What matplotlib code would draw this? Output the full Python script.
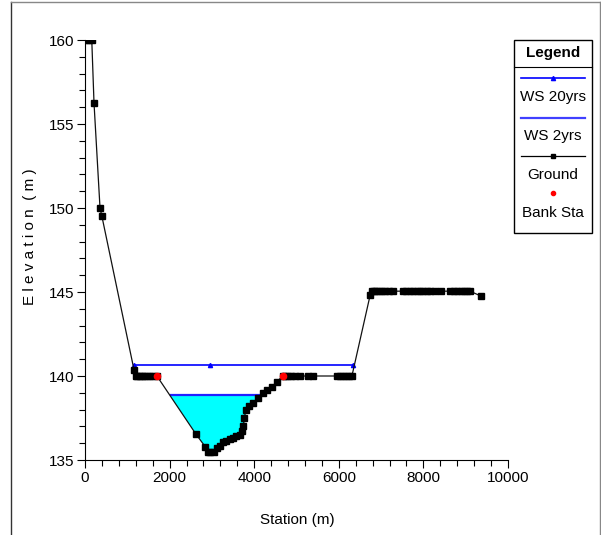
import matplotlib
matplotlib.use("Agg")
import matplotlib.pyplot as plt
import numpy as np
from matplotlib.lines import Line2D
from matplotlib.patches import Rectangle

plt.rcParams['font.family'] = ['Liberation Sans Narrow', 'Liberation Sans', 'DejaVu Sans']

# Ground profile (station m, elevation m)
ground_sta = [30, 100, 160, 213, 355, 400, 1160, 1200, 1240, 1290, 1350, 1400, 1470, 1530, 1600, 1700,
              2620, 2840, 2910, 2960, 3050, 3120, 3190, 3260, 3330, 3420, 3500, 3580, 3660, 3700, 3740,
              3770, 3800, 3880, 3970, 4090, 4210, 4300, 4420, 4530, 4680,
              4730, 4800, 4880, 4960, 5080, 5270, 5390, 5960, 6030, 6100, 6170, 6240, 6310,
              6740, 6780, 6830, 6880, 6950, 7020, 7090, 7180, 7280, 7520, 7600, 7680, 7760, 7840,
              7920, 8000, 8080, 8160, 8270, 8420, 8630, 8720, 8800, 8880, 8960, 9040, 9100, 9360]
ground_elev = [160.0, 160.0, 160.0, 156.25, 150.0, 149.5, 140.35, 140.0, 140.0, 140.0, 140.0, 140.0, 140.0, 140.0, 140.0, 140.0,
               136.55, 135.8, 135.5, 135.5, 135.5, 135.7, 135.85, 136.05, 136.15, 136.25, 136.3, 136.4, 136.5, 136.7, 137.0,
               137.5, 138.0, 138.2, 138.4, 138.7, 139.0, 139.15, 139.35, 139.65, 140.0,
               140.0, 140.0, 140.0, 140.0, 140.0, 140.0, 140.0, 140.0, 140.0, 140.0, 140.0, 140.0, 140.0,
               144.8, 145.05, 145.05, 145.05, 145.05, 145.05, 145.05, 145.05, 145.05, 145.05, 145.05, 145.05, 145.05, 145.05,
               145.05, 145.05, 145.05, 145.05, 145.05, 145.05, 145.05, 145.05, 145.05, 145.05, 145.05, 145.05, 145.05, 144.76]

bank_sta = [1700, 4680]
bank_elev = [140.0, 140.0]

ws20_sta = [1160, 2950, 6330]
ws20_elev = 140.65
ws2_sta = [2030, 4180]
ws2_elev = 138.87

FS = 11

fig = plt.figure(figsize=(6.01, 5.35), dpi=100)
ax = fig.add_axes([85/601, 1-460/535, (508-85)/601, (460-40)/535])

gs = np.array(ground_sta, float)
ge = np.array(ground_elev, float)
mask = (gs >= 1700) & (gs <= 4680)
ax.fill_between(gs[mask], ge[mask], ws2_elev, where=ge[mask] <= ws2_elev, interpolate=True,
                color='#00ffff', linewidth=0, zorder=1)

ax.plot(ws20_sta, [ws20_elev]*len(ws20_sta), color='#0000ff', lw=1.2, marker='^', ms=3, zorder=2)
ax.plot(ws2_sta, [ws2_elev]*len(ws2_sta), color='#2020ff', lw=1.6, zorder=2)
ax.plot(gs, ge, color='#111111', lw=0.9, marker='s', ms=4.5, mfc='black', mec='black', zorder=3)
ax.plot(bank_sta, bank_elev, linestyle='none', marker='o', color='red', ms=4.5, zorder=4)

ax.set_xlim(0, 10000)
ax.set_ylim(135, 160)
ax.set_xticks([0, 2000, 4000, 6000, 8000, 10000])
ax.set_xticks(np.arange(0, 10001, 400), minor=True)
ax.set_yticks([135, 140, 145, 150, 155, 160])
ax.set_yticks(np.arange(135, 161, 1), minor=True)
ax.tick_params(axis='both', which='major', length=6, width=0.8, labelsize=FS, direction='out', pad=2)
ax.tick_params(axis='both', which='minor', length=4, width=0.8, direction='out')
for s in ['top', 'right']:
    ax.spines[s].set_visible(False)
ax.spines['left'].set_linewidth(0.8)
ax.spines['bottom'].set_linewidth(0.8)
ax.patch.set_alpha(0)

fig.text(30/601, 1-237/535, 'E l e v a t i o n  ( m )', rotation=90, ha='center', va='center', fontsize=FS)
fig.text(297/601, 1-520/535, 'Station (m)', ha='center', va='center', fontsize=FS)

# outer frame
def fy(p):
    return 1 - p/535
def fx(p):
    return p/601
fig.add_artist(Line2D([fx(11), fx(11)], [fy(2), 0], color='#333333', lw=1))
fig.add_artist(Line2D([fx(11), fx(600)], [fy(2), fy(2)], color='#888888', lw=1))
fig.add_artist(Line2D([fx(600), fx(600)], [fy(2), 0], color='#888888', lw=1))

# legend box
L, R, T, B = 514, 592, 40, 233
fig.add_artist(Rectangle((fx(L), fy(B)), fx(R)-fx(L), fy(T)-fy(B), fill=False, edgecolor='black', lw=1))
fig.add_artist(Line2D([fx(L), fx(R)], [fy(67), fy(67)], color='black', lw=0.8))
cx = (L + R) / 2
fig.text(fx(cx), fy(53), 'Legend', ha='center', va='center', fontsize=FS, fontweight='bold')
x0, x1 = fx(L+7), fx(R-7)
fig.add_artist(Line2D([x0, x1], [fy(78), fy(78)], color='#0000ff', lw=1.2))
fig.add_artist(Line2D([fx(cx)], [fy(78)], color='#0000ff', marker='^', ms=3))
fig.text(fx(cx), fy(97), 'WS 20yrs', ha='center', va='center', fontsize=FS)
fig.add_artist(Line2D([x0, x1], [fy(118), fy(118)], color='#4040ff', lw=1.6))
fig.text(fx(cx), fy(136), 'WS 2yrs', ha='center', va='center', fontsize=FS)
fig.add_artist(Line2D([x0, x1], [fy(156), fy(156)], color='black', lw=0.9))
fig.add_artist(Line2D([fx(cx)], [fy(156)], color='black', marker='s', ms=3))
fig.text(fx(cx), fy(175), 'Ground', ha='center', va='center', fontsize=FS)
fig.add_artist(Line2D([fx(cx)], [fy(193)], color='red', marker='o', ms=3, linestyle='none'))
fig.text(fx(cx), fy(213), 'Bank Sta', ha='center', va='center', fontsize=FS)

fig.savefig('out.png', dpi=100)
